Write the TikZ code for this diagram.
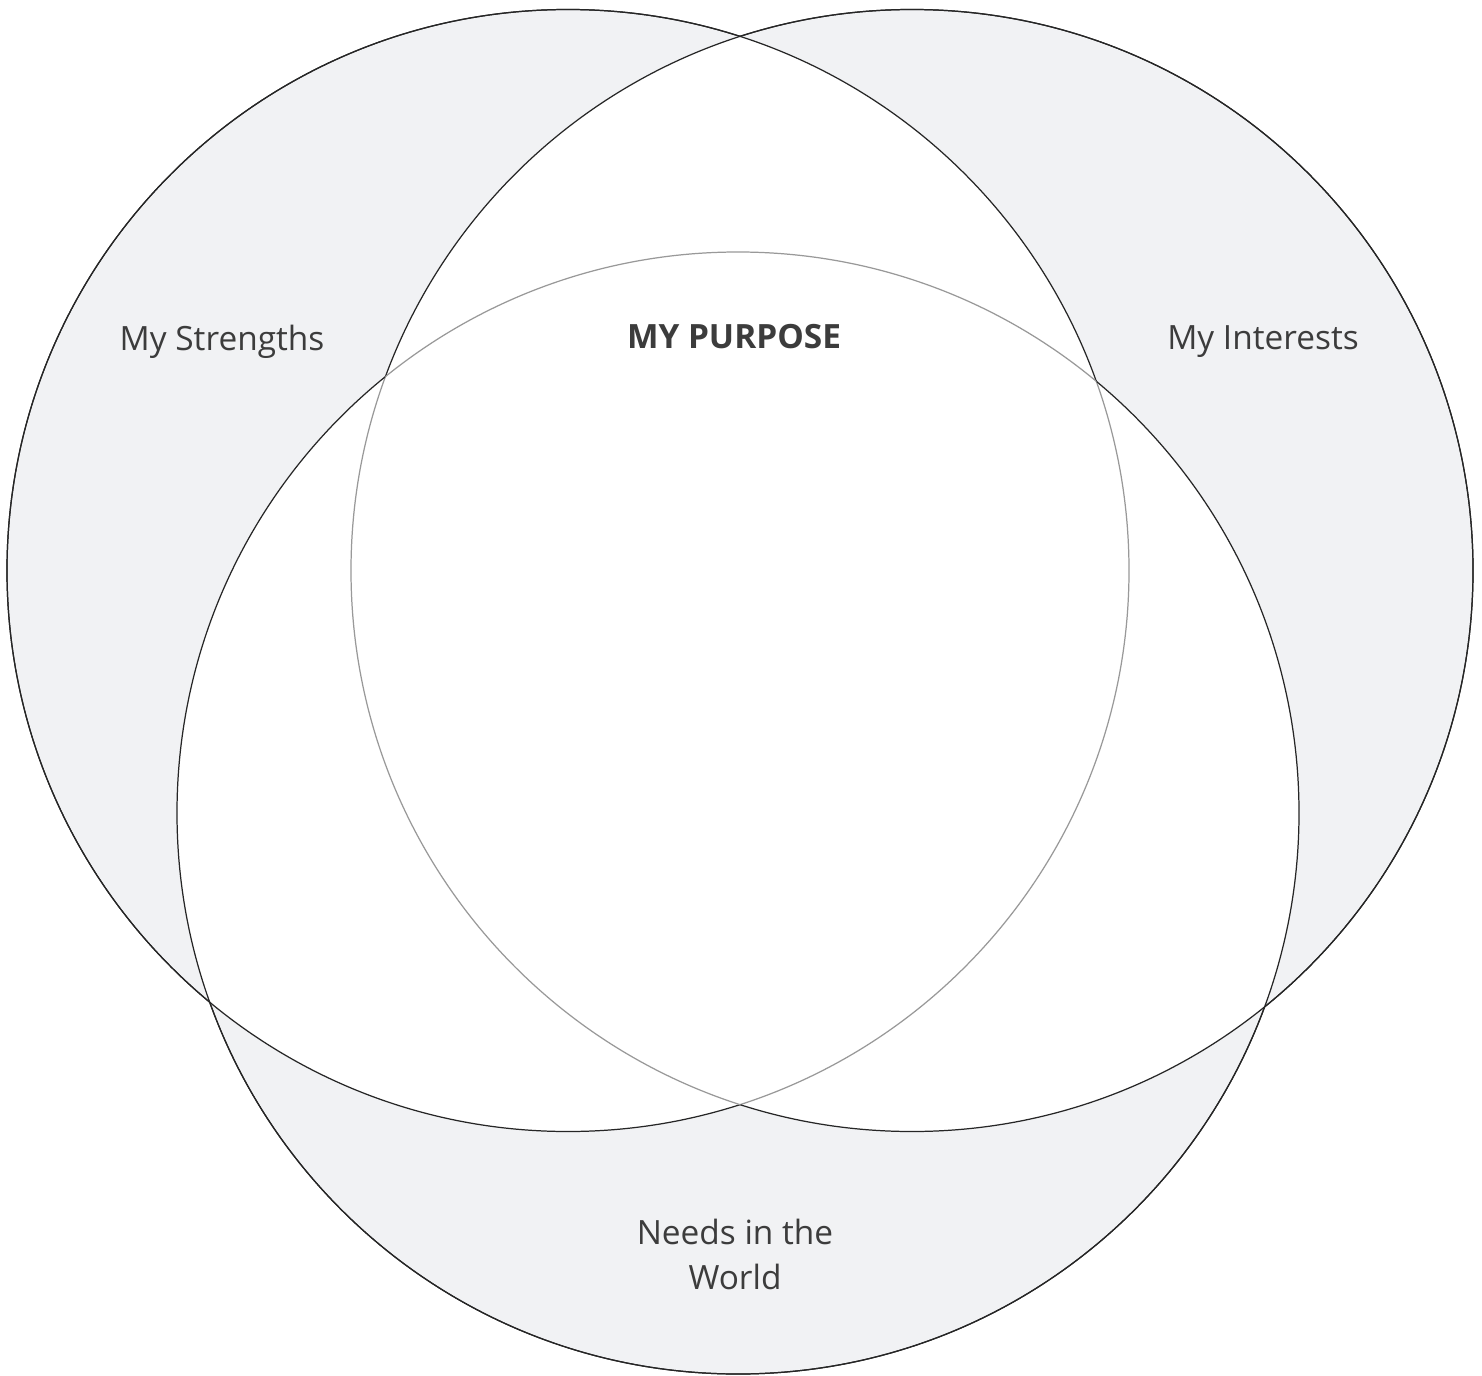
\documentclass[tikz,border=0pt]{standalone}
\usepackage{fontspec}
\setmainfont{Open Sans}
\definecolor{regiongray}{HTML}{F1F2F4}
\definecolor{labelgray}{HTML}{3C3C3C}
\def\rad{561}
\tikzset{
  outerarc/.style={draw=black!85, line width=.35pt},
  innerarc/.style={draw=black!40, line width=.35pt},
  lbl/.style={text=labelgray, font=\fontsize{9.5}{12.8}\selectfont, align=center},
}
% everything but the circle round #1 (page frame drawn the other way round)
\newcommand\outsideof[1]{\clip (-100,-100) -- (-100,1500) -- (1600,1500) -- (1600,-100) -- cycle (#1) circle (\rad);}
\begin{document}
\begin{tikzpicture}[x=0.01cm, y=-0.01cm, line join=round, line cap=round]
	\useasboundingbox (0,0) rectangle (1482,1376);
	\coordinate (cs) at (568,570.5);
	\coordinate (ci) at (912,570.5);
	\coordinate (cn) at (738,813);
	% areas covered by one circle only
	\fill[regiongray] (cs) circle (\rad) (ci) circle (\rad) (cn) circle (\rad);
	\begin{scope}
		\clip (cs) circle (\rad);
		\fill[white] (ci) circle (\rad) (cn) circle (\rad);
	\end{scope}
	\begin{scope}
		\clip (ci) circle (\rad);
		\fill[white] (cn) circle (\rad);
	\end{scope}
	% arcs inside both other circles are light, the rest dark
	\foreach \a/\b/\c in {cs/ci/cn, ci/cn/cs, cn/cs/ci}{
		\begin{scope}
			\outsideof{\b}
			\draw[outerarc] (\a) circle (\rad);
		\end{scope}
		\begin{scope}
			\outsideof{\c}
			\draw[outerarc] (\a) circle (\rad);
		\end{scope}
		\begin{scope}
			\clip (\b) circle (\rad);
			\clip (\c) circle (\rad);
			\draw[innerarc] (\a) circle (\rad);
		\end{scope}
	}
	\node[lbl] (strengths) at (222,342) {My Strengths};
	\node[lbl] (interests) at (1263,342) {My Interests};
	\node[lbl, font=\fontsize{9.5}{12.8}\selectfont\bfseries] (purpose) at (734,337) {MY PURPOSE};
	\node[lbl] (needs) at (735,1254) {Needs in the\\World};
\end{tikzpicture}
\end{document}
